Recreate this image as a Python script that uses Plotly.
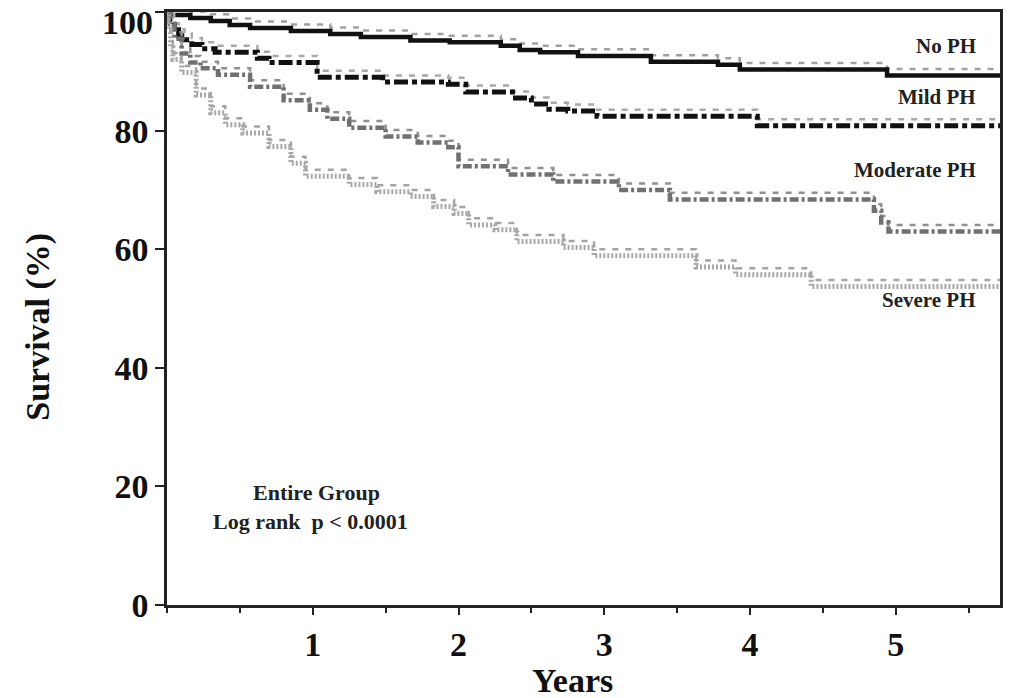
import plotly.graph_objects as go

# ---- data (years, survival %) ----
no_ph_t = [0, 0.02, 0.16, 0.30, 0.43, 0.57, 0.85, 1.12, 1.33, 1.67, 1.94, 2.29, 2.42, 2.56, 2.82, 3.32, 3.78, 3.93, 4.94, 5.72]
no_ph_s = [100, 99.5, 99.0, 98.5, 97.8, 97.3, 96.8, 96.3, 95.8, 95.2, 94.9, 94.3, 93.6, 93.2, 92.6, 91.6, 91.1, 90.3, 89.3, 89.3]

mild_t = [0, 0.02, 0.05, 0.08, 0.12, 0.17, 0.24, 0.33, 0.62, 0.70, 1.03, 1.48, 1.93, 2.05, 2.37, 2.50, 2.62, 2.75, 2.95, 4.05, 5.72]
mild_s = [100, 98.5, 97.0, 96.0, 95.3, 94.5, 93.8, 93.2, 92.2, 91.5, 89.0, 88.2, 87.8, 86.5, 85.5, 84.5, 83.6, 83.3, 82.4, 80.8, 80.8]

mod_t = [0, 0.02, 0.05, 0.10, 0.16, 0.23, 0.35, 0.57, 0.80, 0.98, 1.10, 1.25, 1.50, 1.72, 1.93, 2.00, 2.34, 2.65, 3.10, 3.45, 4.85, 4.90, 4.95, 5.72]
mod_s = [100, 98.0, 95.5, 93.0, 91.5, 90.5, 89.4, 87.4, 85.1, 83.5, 82.0, 80.5, 79.0, 78.0, 77.2, 74.0, 72.6, 71.4, 70.0, 68.4, 66.5, 64.5, 63.0, 63.0]

sev_t = [0, 0.01, 0.025, 0.04, 0.10, 0.20, 0.30, 0.40, 0.52, 0.70, 0.85, 0.95, 1.25, 1.44, 1.67, 1.83, 1.97, 2.07, 2.25, 2.40, 2.72, 2.93, 3.63, 3.90, 4.42, 5.72]
sev_s = [100, 97.0, 94.0, 92.0, 89.8, 86.0, 83.0, 81.0, 79.6, 77.3, 74.5, 72.3, 70.9, 69.7, 68.9, 67.2, 66.0, 64.1, 63.3, 61.3, 60.3, 58.9, 57.0, 55.7, 53.7, 53.7]

group_labels = ["No PH", "Mild PH", "Moderate PH", "Severe PH"]
x_tick_vals = [1, 2, 3, 4, 5]
y_tick_vals = [0, 20, 40, 60, 80, 100]
y_tick_text = ["0", "20", "40", "60", "80", "100"]

# ---- styles ----
FONT = "Liberation Serif"
CENSOR_OFFSET = 1.1
series = [
    (no_ph_t, no_ph_s, "#111111", 4.5, "solid", "#a0a0a0"),
    (mild_t, mild_s, "#111111", 5, "14px,4px,5px,4px", "#a8a8a8"),
    (mod_t, mod_s, "#707070", 4.5, "9px,3px,3px,3px", "#909090"),
    (sev_t, sev_s, "#a8a8a8", 5, "2px,2px", "#a4a4a4"),
]

fig = go.Figure()
for (t, s, col, w, dash, ccol), name in zip(series, group_labels):
    # censor marks drawn as a light dashed trace just above each curve
    fig.add_trace(go.Scatter(
        x=t, y=[v + CENSOR_OFFSET for v in s], mode="lines", line_shape="hv",
        line=dict(color=ccol, width=2.5, dash="6px,7px"), hoverinfo="skip", showlegend=False))
    fig.add_trace(go.Scatter(
        x=t, y=s, mode="lines", line_shape="hv", name=name,
        line=dict(color=col, width=w, dash=dash), showlegend=False))

label_pos = [(0.9736, 0.942), (0.9736, 0.856), (0.9736, 0.734), (0.9736, 0.515)]
annots = []
for name, (px, py) in zip(group_labels, label_pos):
    annots.append(dict(text=f"<b>{name}</b>", x=px, y=py, xref="paper", yref="paper",
                       xanchor="right", yanchor="middle", showarrow=False,
                       font=dict(family=FONT, size=21, color="#222")))
annots += [
    dict(text="<b>Entire Group</b>", x=0.179, y=0.189, xref="paper", yref="paper",
         xanchor="center", yanchor="middle", showarrow=False,
         font=dict(family=FONT, size=22, color="#222")),
    dict(text="<b>Log rank  p < 0.0001</b>", x=0.172, y=0.140, xref="paper", yref="paper",
         xanchor="center", yanchor="middle", showarrow=False,
         font=dict(family=FONT, size=22, color="#222")),
    dict(text="<b>Years</b>", x=0.487, y=-0.128, xref="paper", yref="paper",
         xanchor="center", yanchor="middle", showarrow=False,
         font=dict(family=FONT, size=34, color="#111")),
    dict(text="<b>Survival (%)</b>", x=-0.155, y=0.469, xref="paper", yref="paper",
         xanchor="center", yanchor="middle", showarrow=False, textangle=-90,
         font=dict(family=FONT, size=34, color="#111")),
    # top tick label sits just below the frame edge, as in the reference
    dict(text=f"<b>{y_tick_text[-1]}</b>", x=-0.0145, y=0.982, xref="paper", yref="paper",
         xanchor="right", yanchor="middle", showarrow=False,
         font=dict(family=FONT, size=34, color="#111")),
]

fig.update_layout(
    width=1015, height=698,
    margin=dict(l=167, r=15, t=12, b=93, autoexpand=False),
    paper_bgcolor="white", plot_bgcolor="white",
    annotations=annots,
    xaxis=dict(range=[0, 5.715], tickvals=x_tick_vals, ticktext=[str(v) for v in x_tick_vals],
               ticks="outside", ticklen=7, tickwidth=2, tickcolor="#222", automargin=False,
               minor=dict(dtick=0.5, tick0=0, ticks="outside", ticklen=5, tickwidth=2, tickcolor="#222"),
               showline=True, linecolor="#222", linewidth=2.5, mirror=True,
               showgrid=False, zeroline=False,
               tickfont=dict(family=FONT, size=34, color="#111", weight="bold")),
    yaxis=dict(range=[0, 100], tickvals=y_tick_vals, ticktext=y_tick_text[:-1] + [""],
               ticks="outside", ticklen=9, tickwidth=2,
               tickcolor="#222", showline=True, linecolor="#222", linewidth=2.5, mirror=True,
               showgrid=False, zeroline=False, ticklabelstandoff=0,
               automargin=False,
               tickfont=dict(family=FONT, size=34, color="#111", weight="bold")),
)

fig.write_html("out.html")
